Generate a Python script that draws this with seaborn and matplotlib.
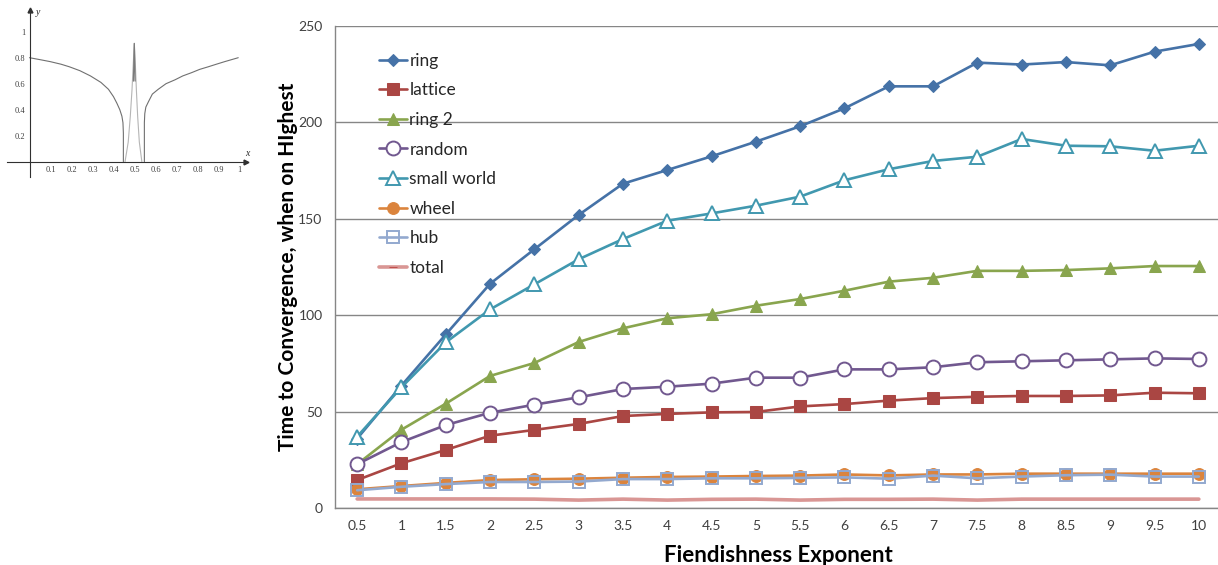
import numpy as np
import pandas as pd
import seaborn as sns
import matplotlib
matplotlib.use("Agg")
import matplotlib.pyplot as plt

# ---- main chart data -------------------------------------------------------
exponents = ["0.5", "1", "1.5", "2", "2.5", "3", "3.5", "4", "4.5", "5",
             "5.5", "6", "6.5", "7", "7.5", "8", "8.5", "9", "9.5", "10"]

ring = [36, 63.5, 90, 116.3, 134.2, 152, 168.2, 175.3, 182.4, 190,
        198, 207.3, 218.7, 218.7, 231, 230, 231.3, 229.6, 236.7, 240.7]
lattice = [14.5, 23.2, 30.1, 37.5, 40.5, 43.6, 47.7, 48.8, 49.6, 49.8,
           52.7, 53.9, 55.7, 57, 57.7, 58.1, 58.1, 58.4, 59.8, 59.5]
ring_2 = [22.7, 40.6, 54.1, 68.5, 75.2, 86.1, 93.2, 98.4, 100.5, 104.9,
          108.4, 112.7, 117.4, 119.4, 123, 123, 123.4, 124.3, 125.5, 125.5]
random_net = [22.7, 34.2, 43, 49.4, 53.6, 57.4, 61.7, 62.9, 64.5, 67.6,
              67.6, 71.9, 71.9, 73, 75.6, 76.1, 76.6, 77.1, 77.6, 77.3]
small_world = [37, 62.6, 85.9, 103, 116, 129, 139.5, 149, 152.8, 156.8,
               161.5, 170, 175.7, 180, 182.2, 191.4, 187.9, 187.6, 185.3, 187.9]
wheel = [9.7, 11.4, 13, 14.5, 14.9, 15.2, 15.7, 16.1, 16.3, 16.6,
         16.8, 17.4, 16.9, 17.4, 17.4, 17.8, 17.8, 17.8, 17.8, 17.8]
hub = [9.2, 11, 12.4, 13.5, 13.5, 13.7, 15, 15, 15.4, 15.4,
       15.6, 15.9, 15.2, 16.8, 15.4, 16.3, 17, 17.3, 16.3, 16.3]
total = [4.7, 4.7, 4.7, 4.7, 4.6, 4.1, 4.6, 4.1, 4.5, 4.6,
         4.1, 4.5, 4.5, 4.6, 4.1, 4.6, 4.6, 4.6, 4.6, 4.6]

y_ticks = [0, 50, 100, 150, 200, 250]

# ---- inset function plot data ---------------------------------------------
left_x = [0, 0.05, 0.098, 0.15, 0.19, 0.24, 0.29, 0.34, 0.376, 0.40, 0.416,
          0.43, 0.44, 0.445, 0.447, 0.447]
left_y = [0.8, 0.785, 0.77, 0.75, 0.73, 0.70, 0.66, 0.61, 0.557, 0.50, 0.45,
          0.40, 0.35, 0.30, 0.22, 0]
right_x = [0.547, 0.547, 0.549, 0.554, 0.566, 0.585, 0.613, 0.65, 0.693,
           0.73, 0.772, 0.81, 0.851, 0.89, 0.93, 0.994]
right_y = [0, 0.30, 0.37, 0.42, 0.46, 0.52, 0.557, 0.60, 0.63, 0.66, 0.685,
           0.71, 0.73, 0.75, 0.77, 0.8]
spike_x = [0.455, 0.47, 0.48, 0.488, 0.494, 0.499, 0.504, 0.509, 0.515,
           0.523, 0.535]
spike_y = [0, 0.15, 0.35, 0.55, 0.75, 0.91, 0.75, 0.55, 0.35, 0.15, 0]
peak_x = [0.495, 0.499, 0.503]
peak_y = [0.62, 0.91, 0.62]

inset_xticks = [0.1, 0.2, 0.3, 0.4, 0.5, 0.6, 0.7, 0.8, 0.9, 1]
inset_yticks = [0.2, 0.4, 0.6, 0.8, 1]

sns.set_style("white")
plt.rcParams["font.family"] = ["Lato", "DejaVu Sans"]

W, H = 1218, 565
fig = plt.figure(figsize=(W / 100, H / 100), dpi=100)

# ---------------------------------------------------------------------------
# Main chart
# ---------------------------------------------------------------------------
ax = fig.add_axes([335 / W, 1 - 508 / H, 886 / W, 482 / H])

series = [
    ("ring", ring, "#4572A7", dict(marker="D", markersize=6.5,
                                   markerfacecolor="#4572A7", markeredgecolor="#4572A7")),
    ("lattice", lattice, "#AA4643", dict(marker="s", markersize=8.5,
                                         markerfacecolor="#AA4643", markeredgecolor="#AA4643")),
    ("ring 2", ring_2, "#89A54E", dict(marker="^", markersize=8.5,
                                       markerfacecolor="#89A54E", markeredgecolor="#89A54E")),
    ("random", random_net, "#71588F", dict(marker="o", markersize=10,
                                           markerfacecolor="white", markeredgecolor="#71588F",
                                           markeredgewidth=1.4)),
    ("small world", small_world, "#4198AF", dict(marker="^", markersize=9.5,
                                                 markerfacecolor="white", markeredgecolor="#4198AF",
                                                 markeredgewidth=1.4)),
    ("wheel", wheel, "#DB843D", dict(marker="o", markersize=8.5,
                                     markerfacecolor="#DB843D", markeredgecolor="#DB843D")),
    ("hub", hub, "#93A9CF", dict(marker="s", markersize=9,
                                 markerfacecolor="none", markeredgecolor="#93A9CF",
                                 markeredgewidth=1.4)),
    ("total", total, "#D99694", dict(marker="_", markersize=6,
                                     markeredgecolor="#C0504D", linewidth=2.6)),
]

xpos = np.arange(len(exponents))
for name, vals, color, style in series:
    lw = style.pop("linewidth", 1.9)
    df = pd.DataFrame({"x": xpos, "y": vals})
    sns.lineplot(data=df, x="x", y="y", ax=ax, color=color, linewidth=lw,
                 label=name, estimator=None, sort=False, **style)
# keep the total line clean of markers
ax.lines[-1].set_marker("None")

ax.set_xlim(-0.5, 19.5)
ax.set_ylim(0, 250)
ax.set_yticks(y_ticks)
ax.set_yticklabels([str(v) for v in y_ticks])
ax.set_xticks(xpos)
ax.set_xticklabels(exponents)
ax.set_xticks(np.arange(-0.5, 20, 1), minor=True)
ax.tick_params(axis="x", which="major", length=0, pad=9, labelsize=10,
               labelcolor="#404040")
ax.tick_params(axis="x", which="minor", length=5, width=1, color="#868686",
               direction="out")
ax.tick_params(axis="y", which="major", length=5, width=1, color="#868686",
               direction="out", pad=4, labelsize=10, labelcolor="#404040")
ax.yaxis.grid(True, color="#868686", linewidth=1)
ax.xaxis.grid(False)
ax.set_axisbelow(True)
for s in ["top", "right"]:
    ax.spines[s].set_visible(False)
for s in ["left", "bottom"]:
    ax.spines[s].set_color("#868686")
    ax.spines[s].set_linewidth(1)

ax.set_xlabel("Fiendishness Exponent", fontsize=16, fontweight="bold",
              labelpad=9, color="black")
ax.set_ylabel("Time to Convergence, when on HIghest", fontsize=15,
              fontweight="bold", labelpad=0, color="black")

handles, labels = ax.get_legend_handles_labels()
leg = ax.legend(handles, labels, loc="upper left",
                bbox_to_anchor=(372 / W, 1 - 46 / H), bbox_transform=fig.transFigure,
                frameon=False, fontsize=12.5, handlelength=1.6, handletextpad=0.15,
                labelspacing=0.78, borderaxespad=0)
leg.legend_handles[-1].set_marker("_")
leg.legend_handles[-1].set_markeredgecolor("#C0504D")

# ---------------------------------------------------------------------------
# Inset function plot
# ---------------------------------------------------------------------------
iax = fig.add_axes([0, 1 - 180 / H, 250 / W, 180 / H])
iax.set_xlim(-0.1405, 1.05)
iax.set_ylim(-0.141, 1.244)

curve = "#707070"
sns.lineplot(x=left_x, y=left_y, ax=iax, color=curve, linewidth=0.8,
             estimator=None, sort=False)
sns.lineplot(x=right_x, y=right_y, ax=iax, color=curve, linewidth=0.8,
             estimator=None, sort=False)
sns.lineplot(x=spike_x, y=spike_y, ax=iax, color="#b5b5b5", linewidth=0.8,
             estimator=None, sort=False)
sns.lineplot(x=peak_x, y=peak_y, ax=iax, color="#7a7a7a", linewidth=0.9,
             estimator=None, sort=False)

for s in ["top", "right"]:
    iax.spines[s].set_visible(False)
iax.spines["left"].set_position(("data", 0))
iax.spines["bottom"].set_position(("data", 0))
iax.spines["left"].set_bounds(-0.115, 1.17)
iax.spines["bottom"].set_bounds(-0.109, 1.03)
for s in ["left", "bottom"]:
    iax.spines[s].set_color("#303030")
    iax.spines[s].set_linewidth(0.8)
iax.plot([1.03], [0], marker=">", color="#303030", markersize=3.5,
         clip_on=False)
iax.plot([0], [1.17], marker="^", color="#303030", markersize=3.5,
         clip_on=False)

serif = ["Liberation Serif", "DejaVu Serif"]
iax.set_xticks(inset_xticks)
iax.set_xticklabels([f"{v:g}" for v in inset_xticks], family=serif,
                    fontsize=6, color="#404040")
iax.set_yticks(inset_yticks)
iax.set_yticklabels([f"{v:g}" for v in inset_yticks], family=serif,
                    fontsize=6, color="#404040")
iax.tick_params(axis="both", direction="inout", length=3, width=0.6,
                color="#303030", pad=1.5)
iax.set_xlabel("")
iax.set_ylabel("")
iax.text(1.035, 0.03, "x", family=serif, fontsize=7, ha="center", va="bottom",
         style="italic")
iax.text(0.03, 1.15, "y", family=serif, fontsize=7, ha="left", va="center",
         style="italic")
iax.patch.set_alpha(0)

fig.savefig("out.png", dpi=100)
